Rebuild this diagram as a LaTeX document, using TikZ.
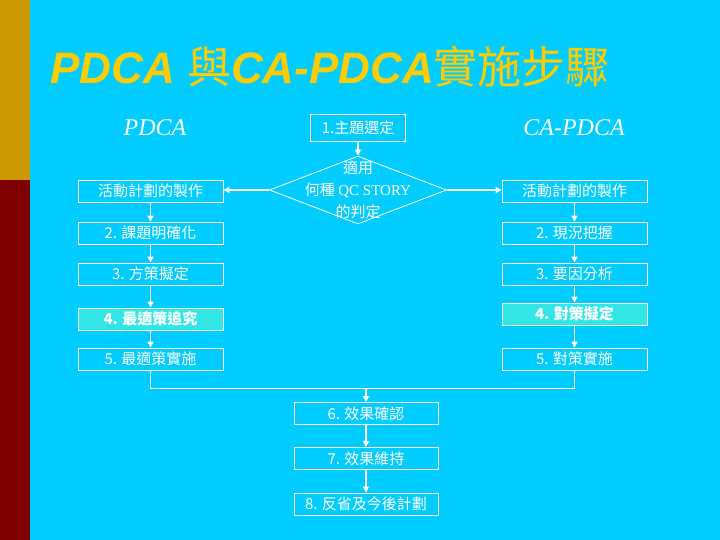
\documentclass[tikz,border=0pt]{standalone}
\usepackage{fontspec}
\setmainfont{Liberation Serif}
\newfontfamily\cjk{Noto Sans CJK TC}
\newfontfamily\headfont{Liberation Sans}
\usetikzlibrary{arrows.meta,shapes.geometric}
\definecolor{sky}{HTML}{00CCFF}
\definecolor{gold}{HTML}{CC9900}
\definecolor{maroon}{HTML}{800000}
\definecolor{titleyellow}{HTML}{FFCC00}
\definecolor{turq}{HTML}{33E6E6}
\def\boxfont{\cjk\fontsize{15}{18}\selectfont}
\tikzset{
	stepbox/.style={draw=white, line width=0.9pt, text=white, font=\boxfont, minimum width=145pt, minimum height=22pt, inner sep=0pt},
	hotbox/.style={stepbox, fill=turq, font=\boxfont\bfseries},
	flow/.style={draw=white, line width=1.5pt, -{Triangle[length=6pt,width=6pt]}},
	joint/.style={draw=white, line width=0.9pt},
	decision/.style={diamond, draw=white, line width=0.8pt, minimum width=177pt, minimum height=68pt, inner sep=0pt},
	colhead/.style={text=white, font=\itshape\fontsize{24}{24}\selectfont}
}

\begin{document}
\begin{tikzpicture}[x=1pt, y=-1pt]
			%%%%% START %%%%%
			\useasboundingbox (0, 0) rectangle (720, 540);
			\fill[sky] (0, 0) rectangle (720, 540);
			\fill[gold] (0, 0) rectangle (30, 180);
			\fill[maroon] (0, 180) rectangle (30, 540);
			
			\node[anchor=base west, inner sep=0pt, text=titleyellow, font=\fontsize{44}{44}\selectfont] (title) at (50, 84)
				{{\headfont\bfseries\itshape PDCA }{\cjk 與}{\headfont\bfseries\itshape CA-PDCA}{\cjk 實施步驟}};
			
			\node[colhead] (lefthead) at (155, 128) {PDCA};
			\node[colhead] (righthead) at (574, 128) {CA-PDCA};
			
			\node[stepbox, minimum width=95pt, minimum height=27pt] (pick) at (358, 127.5) {1.主題選定};
			\node[decision] (judge) at (358, 190) {};
			\node[text=white, font=\cjk\fontsize{15}{22}\selectfont, align=center] (judgetext) at (358, 190)
				{適用\\何種 {\rmfamily QC STORY}\\的判定};
			
			\node[stepbox] (lplan) at (150.5, 191) {活動計劃的製作};
			\node[stepbox] (left2) at (150.5, 233) {2. 課題明確化};
			\node[stepbox] (left3) at (150.5, 274) {3. 方策擬定};
			\node[hotbox] (left4) at (150.5, 319) {4. 最適策追究};
			\node[stepbox] (left5) at (150.5, 359) {5. 最適策實施};
			
			\node[stepbox] (rplan) at (574.5, 191) {活動計劃的製作};
			\node[stepbox] (right2) at (574.5, 233) {2. 現況把握};
			\node[stepbox] (right3) at (574.5, 274) {3. 要因分析};
			\node[hotbox] (right4) at (574.5, 314) {4. 對策擬定};
			\node[stepbox] (right5) at (574.5, 359) {5. 對策實施};
			
			\coordinate (merge) at (366, 388);
			\node[stepbox, minimum width=144pt] (check6) at (366, 413.5) {6. 效果確認};
			\node[stepbox, minimum width=144pt] (keep7) at (366, 458.5) {7. 效果維持};
			\node[stepbox, minimum width=144pt] (review8) at (366, 504) {8. 反省及今後計劃};
			
			\draw[flow] (pick) -- (judge);
			\draw[flow] (judge.west) -- (lplan.east |- judge.west);
			\draw[flow] (judge.east) -- (rplan.west |- judge.east);
			
			\draw[flow] (lplan) -- (left2);
			\draw[flow] (left2) -- (left3);
			\draw[flow] (left3) -- (left4);
			\draw[flow] (left4) -- (left5);
			
			\draw[flow] (rplan) -- (right2);
			\draw[flow] (right2) -- (right3);
			\draw[flow] (right3) -- (right4);
			\draw[flow] (right4) -- (right5);
			
			\draw[joint] (left5.south) -- (left5.south |- merge) -- (right5.south |- merge) -- (right5.south);
			\draw[flow] (merge) -- (check6);
			\draw[flow] (check6) -- (keep7);
			\draw[flow] (keep7) -- (review8);
			%%%%% END %%%%%
\end{tikzpicture}
\end{document}
